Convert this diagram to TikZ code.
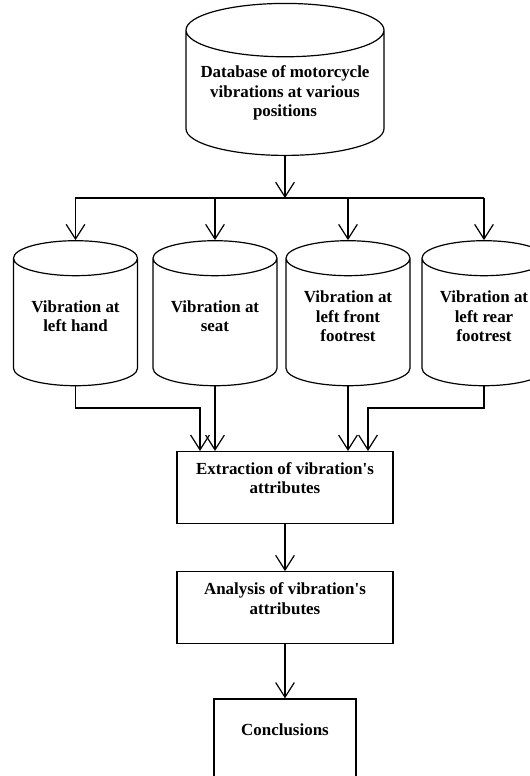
\documentclass[tikz,border=0pt]{standalone}
\usepackage{fontspec}
\setmainfont{Liberation Serif}
\usetikzlibrary{arrows.meta,shapes.geometric,positioning}
\tikzset{
    store/.style =  {cylinder,
                    shape border rotate=90,
                    draw=black,
                    fill=white,
                    text=black,
                    line width=0.9pt,
                    aspect=0.36,
                    align=center,
                    text depth=14pt,
                    minimum width=93pt,
                    minimum height=108.75pt},
    bigstore/.style = {store,
                    aspect=0.3,
                    text depth=8.5pt,
                    minimum width=148.5pt,
                    minimum height=114pt},
    box/.style =    {rectangle,
                    draw=black,
                    fill=white,
                    text=black,
                    line width=0.9pt,
                    align=center,
                    text depth=14pt,
                    minimum width=162pt,
                    minimum height=54pt},
    flow/.style =   {line width=0.9pt,
                    -{Straight Barb[length=11pt,width=14pt,line width=0.9pt]}},
    every node/.style = {font=\fontsize{12.7}{14.6}\selectfont\bfseries},
    node distance=35pt}

\begin{document}
\begin{tikzpicture}[x=0.75pt,y=-0.75pt]
    \useasboundingbox (0,0) rectangle (530,776);
    % sources
    \node[bigstore] (db)   at (285,97)     {Database of motorcycle\\vibrations at various\\positions};
    \node[store]    (lh)   at (75.5,325.5) {Vibration at\\left hand};
    \node[store]    (seat) at (215,325.5)  {Vibration at\\seat};
    \node[store]    (ff)   at (348,325.5)  {Vibration at\\left front\\footrest};
    \node[store]    (rf)   at (484,325.5)  {Vibration at\\left rear\\footrest};
    % processing
    \node[box]      (ext)  at (285,487.5)  {Extraction of vibration\textquotesingle s\\attributes};
    \node[box]      (ana)  [below=35.25pt of ext] {Analysis of vibration\textquotesingle s\\attributes};
    \node[box, minimum width=106.5pt, minimum height=64pt, text depth=18pt]
                    (con)  [below=40.5pt of ana]  {Conclusions};
    \coordinate (bus) at (285,198);
    \coordinate (j1)  at (200,408);
    \coordinate (j4)  at (368,408);
    \draw[flow] (db.south) -- (bus);
    \draw[line width=0.9pt] (lh.north |- bus) -- (rf.north |- bus);
    \foreach \s in {lh,seat,ff,rf}
        \draw[flow] (\s.north |- bus) -- (\s.north);
    \draw[flow] (lh.south) |- (j1) -- (j1 |- ext.north);
    \draw[flow] (seat.south) -- (seat.south |- ext.north);
    \draw[flow] (ff.south) -- (ff.south |- ext.north);
    \draw[flow] (rf.south) |- (j4) -- (j4 |- ext.north);
    \draw[flow] (ext) -- (ana);
    \draw[flow] (ana) -- (con);
\end{tikzpicture}
\end{document}
